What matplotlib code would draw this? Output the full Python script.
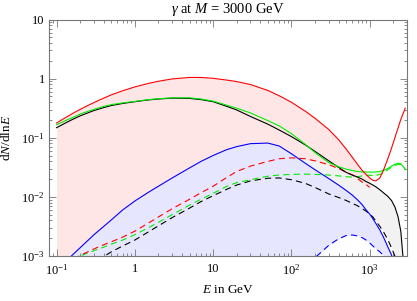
import numpy as np
import matplotlib
matplotlib.use("Agg")
import matplotlib.pyplot as plt
from matplotlib.ticker import FixedLocator, LogLocator, NullFormatter, FixedFormatter

plt.rcParams['font.family'] = ['Liberation Serif', 'DejaVu Serif']
plt.rcParams['mathtext.fontset'] = 'custom'
plt.rcParams['mathtext.rm'] = 'Liberation Serif'
plt.rcParams['mathtext.it'] = 'Liberation Serif:italic'
plt.rcParams['mathtext.default'] = 'it'
plt.rcParams['lines.scale_dashes'] = False

# ---- data (E in GeV; values as log10 of dN/dlnE) ----
E_grid = [0.1, 0.13, 0.16, 0.2, 0.25, 0.3, 0.4, 0.5, 0.7, 1, 1.5, 2, 3, 5, 7,
          10, 15, 20, 30, 50, 70, 100, 150, 200, 300, 400, 500, 600, 700, 800, 900,
          1000, 1100, 1200, 1350, 1500, 1700, 1900, 2100, 2300, 2500, 2700, 2850]

red_solid = [-0.75, -0.66, -0.59, -0.52, -0.455, -0.405, -0.33, -0.275, -0.205, -0.14, -0.08, -0.045, -0.005, 0.02, 0.02,
             0.005, -0.025, -0.05, -0.10, -0.20, -0.29, -0.40, -0.55, -0.67, -0.86, -1.03, -1.19, -1.33, -1.45, -1.55, -1.62,
             -1.68, -1.72, -1.73, -1.68, -1.55, -1.36, -1.18, -1.00, -0.84, -0.69, -0.58, -0.50]
green_solid = [-0.78, -0.71, -0.66, -0.60, -0.555, -0.52, -0.47, -0.44, -0.41, -0.385, -0.355, -0.34, -0.325, -0.325, -0.345,
               -0.38, -0.45, -0.50, -0.58, -0.71, -0.80, -0.93, -1.11, -1.25, -1.42, -1.49, -1.53, -1.555, -1.57, -1.578, -1.58,
               -1.58, -1.58, -1.578, -1.57, -1.55, -1.52, -1.48, -1.45, -1.43, -1.44, -1.49, -1.54]
black_solid = [-0.83, -0.75, -0.69, -0.63, -0.58, -0.54, -0.49, -0.455, -0.42, -0.39, -0.36, -0.345, -0.33, -0.335, -0.355,
               -0.39, -0.47, -0.53, -0.64, -0.77, -0.87, -0.98, -1.12, -1.23, -1.39, -1.50, -1.585, -1.63, -1.665, -1.70, -1.74,
               -1.77, -1.80, -1.83, -1.88, -1.93, -1.99, -2.06, -2.17, -2.33, -2.58, -3.1, -3.6]
blue_solid = [-3.25, -3.1, -2.98, -2.86, -2.74, -2.64, -2.50, -2.39, -2.22, -2.07, -1.92, -1.82, -1.68, -1.51, -1.40,
              -1.30, -1.20, -1.15, -1.10, -1.09, -1.14, -1.27, -1.43, -1.54, -1.69, -1.80, -1.89, -1.97, -2.05, -2.13, -2.22,
              -2.29, -2.37, -2.45, -2.56, -2.68, -2.84, -2.98, -3.15, -3.4, -3.7, -4.0, -4.3]
red_dashed = [-3.25, -3.15, -3.07, -2.99, -2.93, -2.88, -2.81, -2.76, -2.68, -2.58, -2.44, -2.34, -2.20, -2.04, -1.93,
              -1.82, -1.67, -1.57, -1.48, -1.40, -1.355, -1.34, -1.355, -1.39, -1.455, -1.52, -1.585, -1.63, -1.69, -1.75, -1.79,
              -1.84, np.nan, np.nan, np.nan, np.nan, np.nan, np.nan, np.nan, np.nan, np.nan, np.nan, np.nan]
green_dashed = [-3.3, -3.2, -3.09, -3.0, -2.95, -2.91, -2.85, -2.80, -2.73, -2.64, -2.52, -2.43, -2.30, -2.14, -2.04,
                -1.94, -1.82, -1.76, -1.71, -1.65, -1.63, -1.62, -1.615, -1.62, -1.63, -1.645, -1.66, -1.665, -1.66, -1.645, -1.635,
                -1.635, -1.64, -1.64, -1.62, -1.59, -1.54, -1.50, -1.47, -1.45, -1.45, -1.49, -1.53]
black_dashed = [-4.0, -3.8, -3.6, -3.4, -3.25, -3.15, -3.01, -2.93, -2.83, -2.73, -2.59, -2.49, -2.35, -2.19, -2.08,
                -1.98, -1.87, -1.80, -1.73, -1.685, -1.68, -1.71, -1.77, -1.84, -1.95, -2.01, -2.06, -2.11, -2.15, -2.20, -2.24,
                -2.29, -2.34, -2.41, -2.50, -2.59, -2.72, -2.86, -3.0, -3.2, -3.5, -3.8, -4.0]
blue_dashed = [np.nan] * 22 + [-3.5, -3.03, -2.82, -2.71, -2.655, -2.645, -2.66, -2.69, -2.73,
                               -2.78, -2.83, -2.88, -2.93, -2.99, -3.07, -3.2, -3.4, -3.6, -3.8, -4.0, -4.2]

x_ticks = [0.1, 1, 10, 100, 1000]
x_ticklabels = [r'$\mathrm{10^{-1}}$', '1', '10', r'$\mathrm{10^{2}}$', r'$\mathrm{10^{3}}$']
y_ticks = [1e-3, 1e-2, 1e-1, 1, 10]
y_ticklabels = [r'$\mathrm{10^{-3}}$', r'$\mathrm{10^{-2}}$', r'$\mathrm{10^{-1}}$', '1', '10']

# ---- figure ----
fig = plt.figure(figsize=(4.17, 3.01), dpi=100)
W, H = 417, 301
ax = fig.add_axes([49 / W, 1 - 256 / H, (407 - 49) / W, (256 - 19.5) / H])
ax.set_xscale('log')
ax.set_yscale('log')

E = np.array(E_grid, dtype=float)
def v(a):
    return 10 ** np.array(a, dtype=float)

FLOOR = 1e-5
# fills (opaque, later ones cover earlier ones)
ax.fill_between(E, v(green_solid), v(green_dashed), color='#e4ffe4', lw=0, zorder=1.0)
ax.fill_between(E, v(black_solid), v(black_dashed), color='#f2f2f2', lw=0, zorder=1.1)
rd = v(red_dashed)
mr = ~np.isnan(rd)
ax.fill_between(E[mr], v(red_solid)[mr], rd[mr], color='#ffe6e6', lw=0, zorder=1.2)
bd = v(blue_dashed)
ax.fill_between(E, v(blue_solid), np.where(np.isnan(bd), FLOOR, bd), color='#e6e6ff', lw=0, zorder=1.3)

lw = 0.8
dash = (0, (4.5, 3.0))
ax.plot(E, v(black_dashed), color='black', lw=lw, ls=dash, zorder=3)
ax.plot(E, v(green_dashed), color='#00ee00', lw=lw, ls=dash, zorder=3)
ax.plot(E, v(red_dashed), color='red', lw=lw, ls=dash, zorder=3)
ax.plot(E, v(blue_dashed), color='blue', lw=lw, ls=dash, zorder=3)
ax.plot(E, v(blue_solid), color='blue', lw=lw, zorder=4)
ax.plot(E, v(black_solid), color='black', lw=lw, zorder=4)
ax.plot(E, v(green_solid), color='#00ee00', lw=lw, zorder=4)
ax.plot(E, v(red_solid), color='red', lw=lw, zorder=4)

ax.set_xlim(0.08, 3000)
ax.set_ylim(1e-3, 10)

ax.xaxis.set_major_locator(FixedLocator(x_ticks))
ax.xaxis.set_major_formatter(FixedFormatter(x_ticklabels))
ax.yaxis.set_major_locator(FixedLocator(y_ticks))
ax.yaxis.set_major_formatter(FixedFormatter(y_ticklabels))
ax.xaxis.set_minor_locator(LogLocator(base=10, subs=np.arange(2, 10), numticks=20))
ax.yaxis.set_minor_locator(LogLocator(base=10, subs=np.arange(2, 10), numticks=20))
ax.xaxis.set_minor_formatter(NullFormatter())
ax.yaxis.set_minor_formatter(NullFormatter())

fc = '#777777'
for s in ax.spines.values():
    s.set_color(fc)
    s.set_linewidth(0.8)
ax.tick_params(which='both', direction='in', top=True, right=True, color=fc, width=0.6,
               labelsize=9, labelcolor='black')
ax.tick_params(which='major', length=5)
ax.tick_params(which='minor', length=2.5)
ax.tick_params(axis='x', pad=5)
ax.tick_params(axis='y', pad=3)

ax.set_xlabel(r'$E$ in GeV', fontsize=9.5, labelpad=5)
ax.set_ylabel(r'd$N$/dln$E$', fontsize=9.5)
ax.yaxis.set_label_coords(-0.1, 0.5)
ax.set_title(r'$\gamma$ at $M$ = 3000 GeV', fontsize=10.5, pad=5)

fig.savefig('out.png', dpi=100)
